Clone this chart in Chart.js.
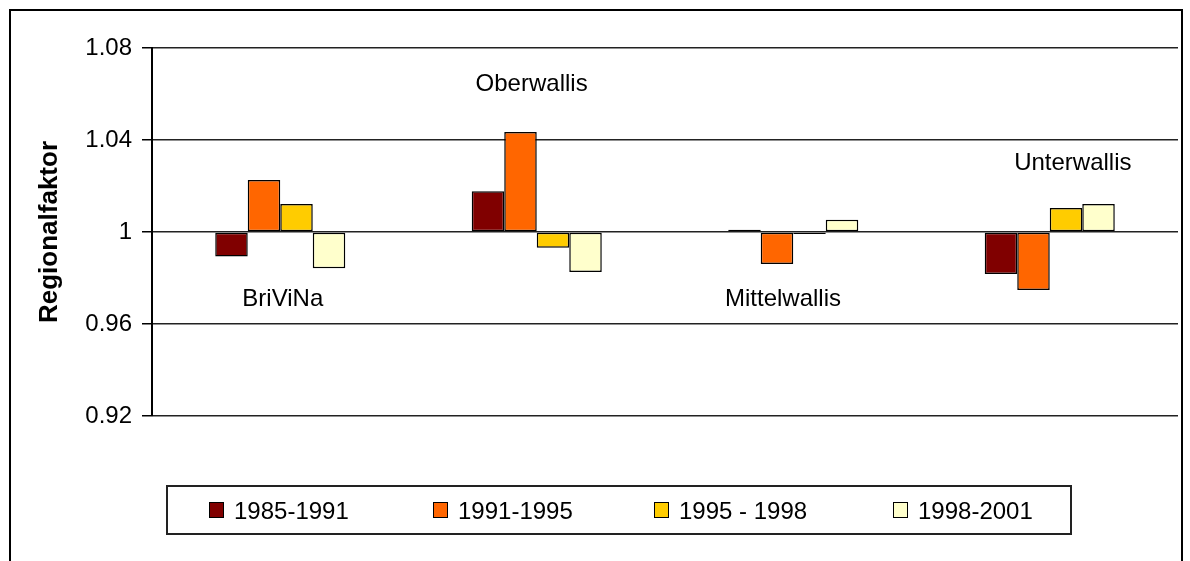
<!DOCTYPE html>
<html>
<head>
<meta charset="utf-8">
<script src="https://cdn.jsdelivr.net/npm/chart.js@4/dist/chart.umd.min.js"></script>
<style>
  html, body { margin: 0; padding: 0; background: #fff; }
  #wrap { position: relative; width: 1190px; height: 561px; overflow: hidden; font-family: "Liberation Sans", Arial, sans-serif; }
  #frame { position: absolute; left: 9px; top: 9px; width: 1170px; height: 600px; border: 2px solid #000; pointer-events: none; }
  #legend { position: absolute; left: 166px; top: 485px; width: 902px; height: 46px; border: 2px solid #222; }
  .item { position: absolute; top: 14px; height: 20px; font-size: 24px; line-height: 20px; color: #000; white-space: nowrap; }
  .item i { position: absolute; left: 0; top: 1px; width: 13px; height: 14px; border: 1.5px solid #000; }
  .item span { position: absolute; left: 25px; top: 0; }
</style>
</head>
<body>
<div id="wrap">
  <canvas id="chart" width="1190" height="561"></canvas>
  <div id="frame"></div>
  <div id="legend"></div>
</div>
<script>
const regions = ['BriViNa', 'Oberwallis', 'Mittelwallis', 'Unterwallis'];
const periods = ['1985-1991', '1991-1995', '1995 - 1998', '1998-2001'];
const v1985 = [0.9894, 1.0177, 1.001, 0.9817];
const v1991 = [1.0226, 1.0435, 0.9861, 0.9748];
const v1995 = [1.0122, 0.9932, 0.9991, 1.0104];
const v1998 = [0.9842, 0.9826, 1.0053, 1.0122];
const yTicks = [0.92, 0.96, 1, 1.04, 1.08];

// where Excel put the region names (in data units)
const nameX = [0.01, 0.98, 1.96, 3.09];
const nameY = [0.9709, 1.0642, 0.9709, 1.0297];

const colors = ['#800000', '#FF6600', '#FFCC00', '#FFFFCC'];
const series = [v1985, v1991, v1995, v1998];

// legend
const legendLeft = [41, 265, 486, 725];
const legend = document.getElementById('legend');
periods.forEach((p, i) => {
  const d = document.createElement('div');
  d.className = 'item';
  d.style.left = legendLeft[i] + 'px';
  d.innerHTML = '<i style="background:' + colors[i] + '"></i><span>' + p + '</span>';
  legend.appendChild(d);
});

const regionNames = {
  id: 'regionNames',
  afterDatasetsDraw(chart) {
    const ctx = chart.ctx;
    const x = chart.scales.x, y = chart.scales.y;
    ctx.save();
    ctx.font = '24px "Liberation Sans", Arial, sans-serif';
    ctx.fillStyle = '#000';
    ctx.textAlign = 'center';
    ctx.textBaseline = 'middle';
    regions.forEach((r, i) => {
      ctx.fillText(r, x.getPixelForValue(nameX[i]), y.getPixelForValue(nameY[i]));
    });
    ctx.restore();
  }
};

new Chart(document.getElementById('chart').getContext('2d'), {
  type: 'bar',
  data: {
    labels: regions,
    datasets: series.map((s, i) => ({
      label: periods[i],
      data: s,
      base: 1,
      backgroundColor: colors[i],
      borderColor: '#000',
      borderWidth: 1.5,
      borderSkipped: false,
      categoryPercentage: 0.507,
      barPercentage: 1
    }))
  },
  options: {
    responsive: false,
    animation: false,
    layout: { padding: { left: 10, top: 48, right: 12, bottom: 145 } },
    plugins: { legend: { display: false }, tooltip: { enabled: false } },
    scales: {
      x: { display: false },
      y: {
        min: 0.92,
        max: 1.08,
        afterBuildTicks: s => { s.ticks = yTicks.map(v => ({ value: v })); },
        afterFit: s => { s.width = 142; },
        border: { display: true, color: '#000', width: 2 },
        grid: { color: '#222', lineWidth: 1.5, tickLength: 10, tickColor: '#000' },
        ticks: {
          padding: 10,
          color: '#000',
          font: { family: '"Liberation Sans", Arial, sans-serif', size: 24 },
          callback: v => String(v)
        },
        title: {
          display: true,
          text: 'Regionalfaktor',
          color: '#000',
          padding: { top: 24, bottom: 0 },
          font: { family: '"Liberation Sans", Arial, sans-serif', size: 26, weight: 'bold' }
        }
      }
    }
  },
  plugins: [regionNames]
});
</script>
</body>
</html>
